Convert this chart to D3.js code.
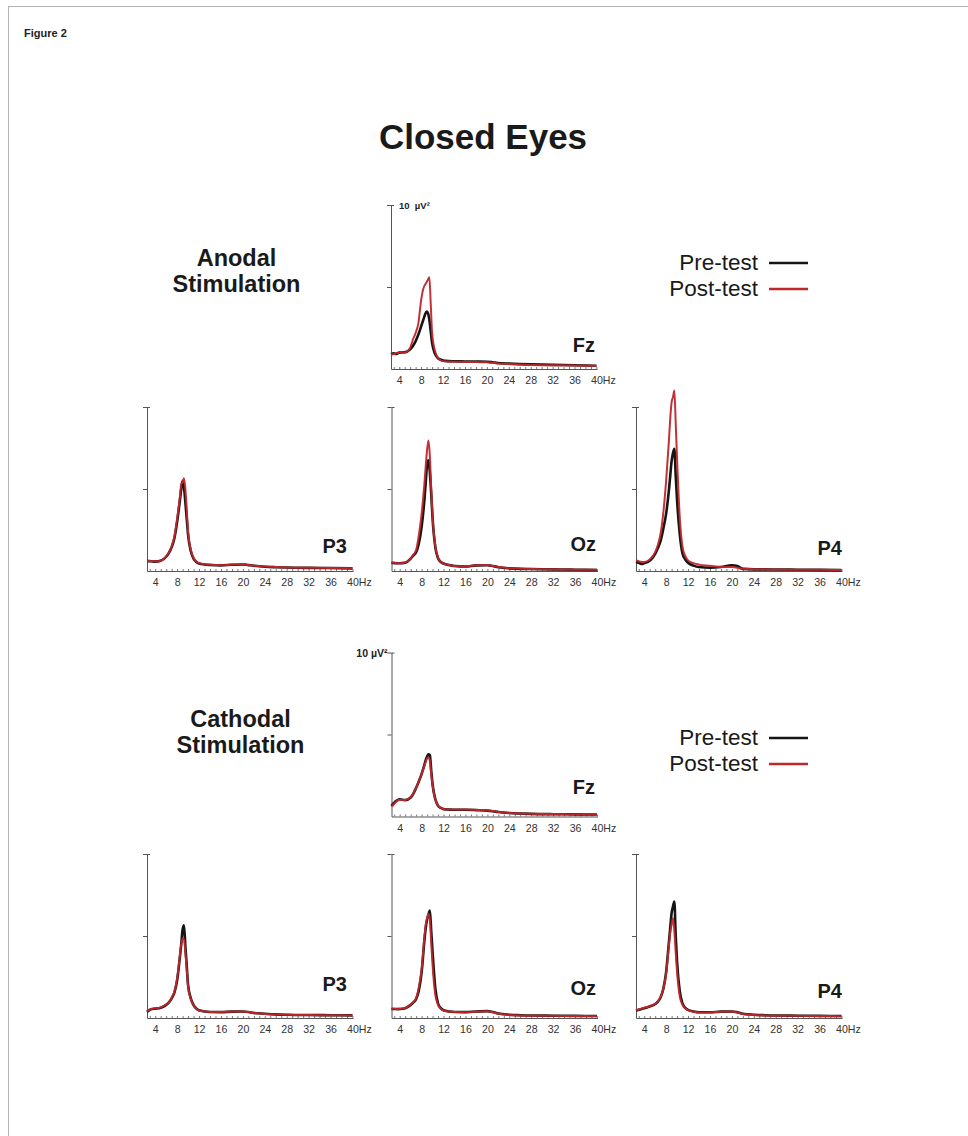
<!DOCTYPE html>
<html><head><meta charset="utf-8">
<script src="https://cdn.jsdelivr.net/npm/d3@7"></script>
<style>
body{margin:0;background:#fff}
svg{display:block}
text{font-family:"Liberation Sans",Arial,Helvetica,sans-serif}
</style>
</head><body>
<svg id="c" width="968" height="1136"></svg>
<script>
// ---------- DATA ----------
const freqs = [2.5,3,3.5,4,5,6,6.5,7,7.5,8,8.5,8.75,9,9.25,9.5,9.75,10,10.5,11,11.5,12,13,14,16,18,20,21,22,24,26,28,32,36,40];
const xTickValues = [4,8,12,16,20,24,28,32,36,40];
const xMinorTicks = d3.range(3, 41, 1);
const yTickValues = [5,10];
const seriesNames = ["Pre-test","Post-test"];

const anodalFzPre  = [0.90,0.95,0.92,1.00,1.02,1.20,1.40,1.70,2.10,2.60,3.10,3.35,3.50,3.40,3.00,2.30,1.60,0.95,0.68,0.58,0.52,0.48,0.47,0.46,0.45,0.44,0.41,0.37,0.33,0.30,0.28,0.25,0.23,0.20];
const anodalFzPost = [0.90,0.92,0.97,1.00,1.00,1.30,1.80,2.20,2.80,4.20,5.00,5.15,5.30,5.45,5.60,4.00,2.20,1.15,0.70,0.55,0.48,0.45,0.44,0.44,0.42,0.41,0.38,0.34,0.30,0.27,0.25,0.23,0.21,0.19];

const anodalP3Pre  = [0.60,0.60,0.58,0.57,0.62,0.87,1.10,1.45,2.00,3.00,4.30,5.00,5.50,5.10,4.20,3.20,2.20,1.20,0.75,0.55,0.46,0.40,0.37,0.34,0.38,0.40,0.36,0.32,0.26,0.23,0.21,0.19,0.18,0.16];
const anodalP3Post = [0.62,0.61,0.60,0.58,0.63,0.88,1.12,1.50,2.10,3.20,4.50,5.30,5.40,5.65,5.00,3.80,2.40,1.30,0.80,0.58,0.48,0.41,0.38,0.35,0.39,0.41,0.37,0.32,0.27,0.24,0.22,0.20,0.18,0.17];

const anodalOzPre  = [0.50,0.48,0.47,0.47,0.50,0.75,0.95,1.15,1.70,2.70,4.30,5.40,6.50,6.75,6.00,4.70,3.20,1.45,0.78,0.55,0.46,0.36,0.30,0.27,0.34,0.35,0.30,0.23,0.16,0.13,0.12,0.10,0.08,0.06];
const anodalOzPost = [0.52,0.50,0.48,0.48,0.52,0.77,1.00,1.28,2.20,3.50,5.30,6.40,7.40,7.95,7.00,5.00,3.30,1.50,0.80,0.56,0.47,0.37,0.31,0.28,0.35,0.36,0.31,0.24,0.17,0.14,0.12,0.10,0.08,0.07];

const anodalP4Pre  = [0.55,0.50,0.43,0.48,0.62,1.05,1.40,1.85,2.60,3.50,4.90,5.80,6.70,7.20,7.45,5.80,4.30,2.20,1.05,0.70,0.50,0.33,0.24,0.20,0.24,0.35,0.30,0.13,0.10,0.10,0.09,0.08,0.07,0.05];
const anodalP4Post = [0.65,0.60,0.55,0.55,0.70,1.15,1.60,2.30,3.60,5.50,7.90,9.30,10.30,10.60,11.00,9.00,6.80,3.20,1.45,0.90,0.65,0.48,0.39,0.32,0.25,0.24,0.20,0.13,0.10,0.10,0.09,0.08,0.07,0.06];

const cathodalFzPre  = [0.65,0.85,0.98,1.05,1.00,1.16,1.40,1.75,2.15,2.60,3.15,3.45,3.65,3.80,3.75,2.80,1.95,1.05,0.65,0.52,0.45,0.42,0.41,0.41,0.39,0.36,0.32,0.27,0.21,0.18,0.16,0.14,0.13,0.12];
const cathodalFzPost = [0.60,0.78,0.95,1.02,1.00,1.18,1.42,1.75,2.15,2.60,3.10,3.35,3.55,3.60,3.40,2.60,1.90,1.05,0.66,0.53,0.46,0.43,0.42,0.42,0.40,0.37,0.33,0.28,0.22,0.19,0.17,0.15,0.14,0.13];

const cathodalP3Pre  = [0.37,0.50,0.55,0.57,0.63,0.80,0.95,1.20,1.55,2.30,3.70,4.50,5.40,5.65,4.40,3.20,2.00,1.20,0.78,0.58,0.47,0.40,0.37,0.36,0.39,0.40,0.37,0.31,0.26,0.22,0.20,0.18,0.17,0.16];
const cathodalP3Post = [0.40,0.52,0.57,0.59,0.65,0.82,0.97,1.22,1.60,2.40,3.80,4.50,4.85,4.80,4.00,3.00,1.95,1.15,0.76,0.57,0.46,0.40,0.37,0.36,0.39,0.40,0.36,0.30,0.25,0.22,0.20,0.18,0.17,0.16];

const cathodalOzPre  = [0.55,0.55,0.54,0.55,0.60,0.80,0.95,1.16,1.70,2.80,4.70,5.50,6.00,6.30,6.55,5.30,4.00,1.80,0.88,0.60,0.47,0.40,0.37,0.36,0.40,0.42,0.36,0.27,0.20,0.17,0.15,0.14,0.13,0.12];
const cathodalOzPost = [0.56,0.56,0.55,0.56,0.61,0.82,0.98,1.22,1.90,3.00,4.90,5.70,6.10,6.35,6.00,4.60,3.20,1.40,0.80,0.57,0.46,0.39,0.36,0.35,0.39,0.41,0.35,0.26,0.19,0.16,0.14,0.13,0.12,0.11];

const cathodalP4Pre  = [0.45,0.50,0.55,0.60,0.70,0.85,1.00,1.26,1.80,2.80,4.60,5.50,6.40,6.80,7.10,5.00,3.40,1.60,0.88,0.62,0.50,0.40,0.35,0.35,0.39,0.40,0.35,0.26,0.20,0.17,0.15,0.14,0.13,0.12];
const cathodalP4Post = [0.47,0.52,0.57,0.62,0.72,0.87,1.02,1.28,1.80,2.70,4.40,5.20,5.70,6.10,5.30,4.00,2.80,1.30,0.80,0.58,0.48,0.39,0.34,0.34,0.38,0.39,0.34,0.25,0.19,0.16,0.14,0.13,0.12,0.11];

// ---------- LAYOUT ----------
const W = 206, H = 164;
const COL = {pre:"#151515", post:"#c0272b"};
const panels = [
  {name:"Fz", pre:anodalFzPre,   post:anodalFzPost,   x0:391,   top:205,   lx:595, lb:352, unit:"right"},
  {name:"P3", pre:anodalP3Pre,   post:anodalP3Post,   x0:147,   top:407,   lx:347, lb:553},
  {name:"Oz", pre:anodalOzPre,   post:anodalOzPost,   x0:391.5, top:407,   lx:596, lb:551},
  {name:"P4", pre:anodalP4Pre,   post:anodalP4Post,   x0:636,   top:407,   lx:842, lb:555},
  {name:"Fz", pre:cathodalFzPre, post:cathodalFzPost, x0:391.5, top:652.5, lx:595, lb:794, unit:"left"},
  {name:"P3", pre:cathodalP3Pre, post:cathodalP3Post, x0:147,   top:854,   lx:347, lb:991},
  {name:"Oz", pre:cathodalOzPre, post:cathodalOzPost, x0:391.5, top:854,   lx:596, lb:995},
  {name:"P4", pre:cathodalP4Pre, post:cathodalP4Post, x0:636,   top:854,   lx:842, lb:998}
];

const svg = d3.select("#c");

// page frame
svg.append("line").attr("x1",8).attr("x2",968).attr("y1",6.5).attr("y2",6.5).attr("stroke","#b4b4b4");
svg.append("line").attr("x1",8.5).attr("x2",8.5).attr("y1",6).attr("y2",1136).attr("stroke","#b4b4b4");

svg.append("text").attr("x",24).attr("y",37).attr("font-size",11).attr("font-weight","bold")
  .attr("fill","#222").text("Figure 2");

svg.append("text").attr("x",483).attr("y",149).attr("text-anchor","middle")
  .attr("font-size",35).attr("font-weight","bold").attr("fill","#1a1a1a").text("Closed Eyes");

function groupTitle(cx, b1, lines){
  lines.forEach((t,i)=>svg.append("text").attr("x",cx).attr("y",b1+i*26).attr("text-anchor","middle")
    .attr("font-size",23.5).attr("font-weight","bold").attr("fill","#1a1a1a").text(t));
}
groupTitle(236.5, 266, ["Anodal","Stimulation"]);
groupTitle(240.5, 727, ["Cathodal","Stimulation"]);

function legend(by){
  seriesNames.forEach((n,i)=>{
    const b = by + i*26;
    svg.append("text").attr("x",758).attr("y",b).attr("text-anchor","end")
      .attr("font-size",22.5).attr("fill","#1a1a1a").text(n);
    svg.append("line").attr("x1",769).attr("x2",808).attr("y1",b-7).attr("y2",b-7)
      .attr("stroke", i===0?COL.pre:COL.post).attr("stroke-width",2.6);
  });
}
legend(270);
legend(745);

const x = d3.scaleLinear().domain([2.5,40.1]).range([0,W]);
const y = d3.scaleLinear().domain([0,10]).range([H,0]);
const line = d3.line().x(d=>x(d[0])).y(d=>y(d[1])).curve(d3.curveMonotoneX);

panels.forEach(p=>{
  const g = svg.append("g").attr("transform",`translate(${p.x0},${p.top})`);

  // minor ticks + baseline
  const minor = g.append("g").attr("transform",`translate(0,${H})`)
    .call(d3.axisBottom(x).tickValues(xMinorTicks).tickSize(-2).tickSizeOuter(0).tickFormat(""));
  minor.selectAll("path").attr("stroke","#555");
  minor.selectAll("line").attr("stroke","#777");

  // labelled ticks
  const lab = g.append("g").attr("transform",`translate(0,${H})`)
    .call(d3.axisBottom(x).tickValues(xTickValues).tickSize(0).tickPadding(7.5)
      .tickFormat(d=> d===40 ? "40Hz" : String(d)));
  lab.select(".domain").remove();
  lab.selectAll("text").attr("font-size",10.6).attr("fill","#333")
    .attr("font-family",'"Liberation Sans",Arial,sans-serif');
  lab.selectAll(".tick").filter(d=>d===40).select("text")
    .attr("text-anchor","start").attr("x",-5.9);

  // y axis
  const ya = g.append("g").call(d3.axisLeft(y).tickValues(yTickValues).tickSize(4).tickSizeOuter(0).tickFormat(""));
  ya.selectAll("path,line").attr("stroke","#555");
  g.append("line").attr("x1",0).attr("x2",3).attr("y1",y(10)+0.5).attr("y2",y(10)+0.5).attr("stroke","#555");

  if(p.unit==="right"){
    g.append("text").attr("x",8).attr("y",y(10)+3.5).attr("font-size",9.5).attr("font-weight","bold")
      .attr("fill","#222").text("10\u00a0\u00a0µV²");
  } else if(p.unit==="left"){
    g.append("text").attr("x",-4).attr("y",y(10)+4).attr("text-anchor","end").attr("font-size",10.5)
      .attr("font-weight","bold").attr("fill","#222").text("10 µV²");
  }

  // curves
  const pre = freqs.map((f,i)=>[f,p.pre[i]]);
  const post = freqs.map((f,i)=>[f,p.post[i]]);
  g.append("path").datum(pre).attr("d",line).attr("fill","none").attr("stroke",COL.pre)
    .attr("stroke-width",2.6).attr("stroke-linejoin","round");
  g.append("path").datum(post).attr("d",line).attr("fill","none").attr("stroke",COL.post)
    .attr("stroke-width",2.0).attr("stroke-linejoin","round").attr("opacity",0.95);

  // electrode label
  svg.append("text").attr("x",p.lx).attr("y",p.lb).attr("text-anchor","end")
    .attr("font-size",20).attr("font-weight","bold").attr("fill","#1a1a1a").text(p.name);
});
</script>
</body></html>
